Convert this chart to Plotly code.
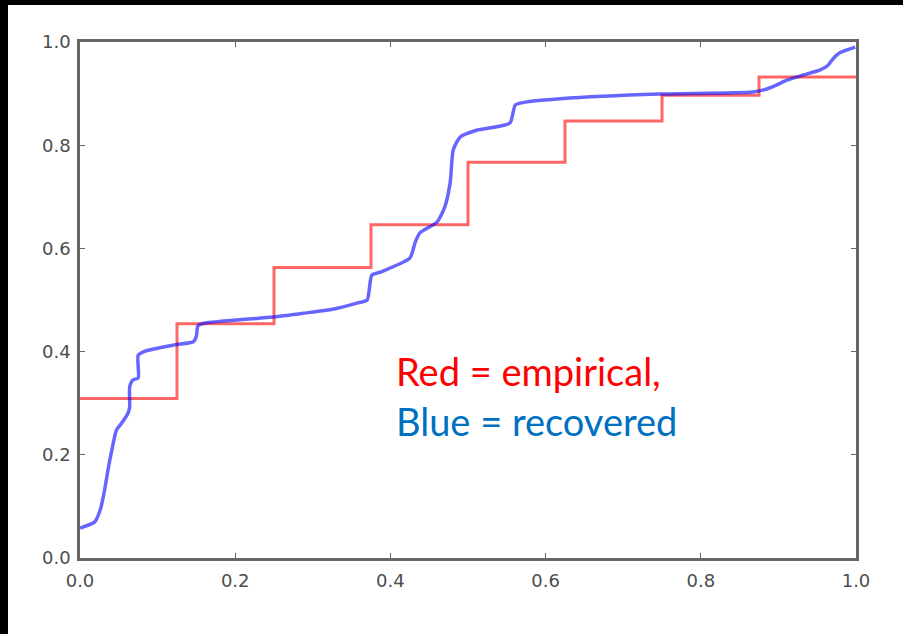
import plotly.graph_objects as go

# Empirical CDF (step function)
emp_x = [0.0, 0.125, 0.25, 0.375, 0.5, 0.625, 0.75, 0.875, 1.0]
emp_y = [0.309, 0.454, 0.563, 0.646, 0.767, 0.847, 0.897, 0.932, 0.932]

# Recovered CDF
rec_x = [0.0, 0.019, 0.026, 0.031, 0.036, 0.041, 0.047, 0.054, 0.062, 0.064,
         0.064, 0.068, 0.075, 0.075, 0.084, 0.122, 0.146, 0.150, 0.152, 0.160,
         0.249, 0.296, 0.322, 0.357, 0.370, 0.376, 0.387, 0.425, 0.432, 0.438,
         0.460, 0.470, 0.477, 0.481, 0.490, 0.511, 0.554, 0.561, 0.576, 0.619,
         0.747, 0.867, 0.885, 0.898, 0.911, 0.932, 0.954, 0.964, 0.969, 0.979,
         0.999]
rec_y = [0.058, 0.070, 0.093, 0.126, 0.170, 0.209, 0.248, 0.262, 0.281, 0.293,
         0.331, 0.345, 0.349, 0.393, 0.401, 0.413, 0.419, 0.430, 0.450, 0.455,
         0.467, 0.476, 0.481, 0.494, 0.500, 0.548, 0.554, 0.581, 0.612, 0.630,
         0.651, 0.680, 0.727, 0.791, 0.816, 0.829, 0.843, 0.878, 0.884, 0.890,
         0.899, 0.903, 0.909, 0.917, 0.926, 0.936, 0.946, 0.955, 0.965, 0.979,
         0.990]

ticks = [0.0, 0.2, 0.4, 0.6, 0.8, 1.0]
tick_text = ["0.0", "0.2", "0.4", "0.6", "0.8", "1.0"]

fig = go.Figure()
fig.add_trace(go.Scatter(x=emp_x, y=emp_y, mode="lines", line_shape="hv",
                         line=dict(color="rgba(255,0,0,0.6)", width=3),
                         showlegend=False, hoverinfo="skip"))
fig.add_trace(go.Scatter(x=rec_x, y=rec_y, mode="lines", line_shape="spline",
                         line=dict(color="rgba(0,0,255,0.6)", width=3.5, smoothing=0.6),
                         showlegend=False, hoverinfo="skip"))

axis_style = dict(range=[0, 1], tickvals=ticks, ticktext=tick_text,
                  showgrid=False, zeroline=False, showline=True, mirror="ticks",
                  linecolor="#666666", linewidth=2.5, ticks="inside", ticklen=5,
                  tickwidth=1, tickcolor="#666666",
                  tickfont=dict(family="DejaVu Sans", size=18, color="#4d4d4d"))

fig.update_xaxes(**axis_style, ticklabelstandoff=5)
fig.update_yaxes(**axis_style, ticklabelstandoff=3)

fig.add_annotation(x=0.404, y=0.362, xref="x", yref="y", xanchor="left", yanchor="middle",
                   text="Red = empirical,", showarrow=False,
                   font=dict(family="Lato", size=38, color="#FF0000"))
fig.add_annotation(x=0.404, y=0.265, xref="x", yref="y", xanchor="left", yanchor="middle",
                   text="Blue = recovered", showarrow=False,
                   font=dict(family="Lato", size=38, color="#0070C0"))

# dark frame strips along the left and top edges of the page
fig.add_shape(type="rect", xref="paper", yref="paper", x0=-0.2, x1=-0.0928, y0=-0.3, y1=1.3,
              fillcolor="black", line_width=0, layer="above")
fig.add_shape(type="rect", xref="paper", yref="paper", x0=-0.2, x1=1.2, y0=1.0717, y1=1.3,
              fillcolor="black", line_width=0, layer="above")

fig.update_layout(width=903, height=634, margin=dict(l=80, r=47, t=42, b=76),
                  paper_bgcolor="white", plot_bgcolor="white")

fig.write_html("out.html")
